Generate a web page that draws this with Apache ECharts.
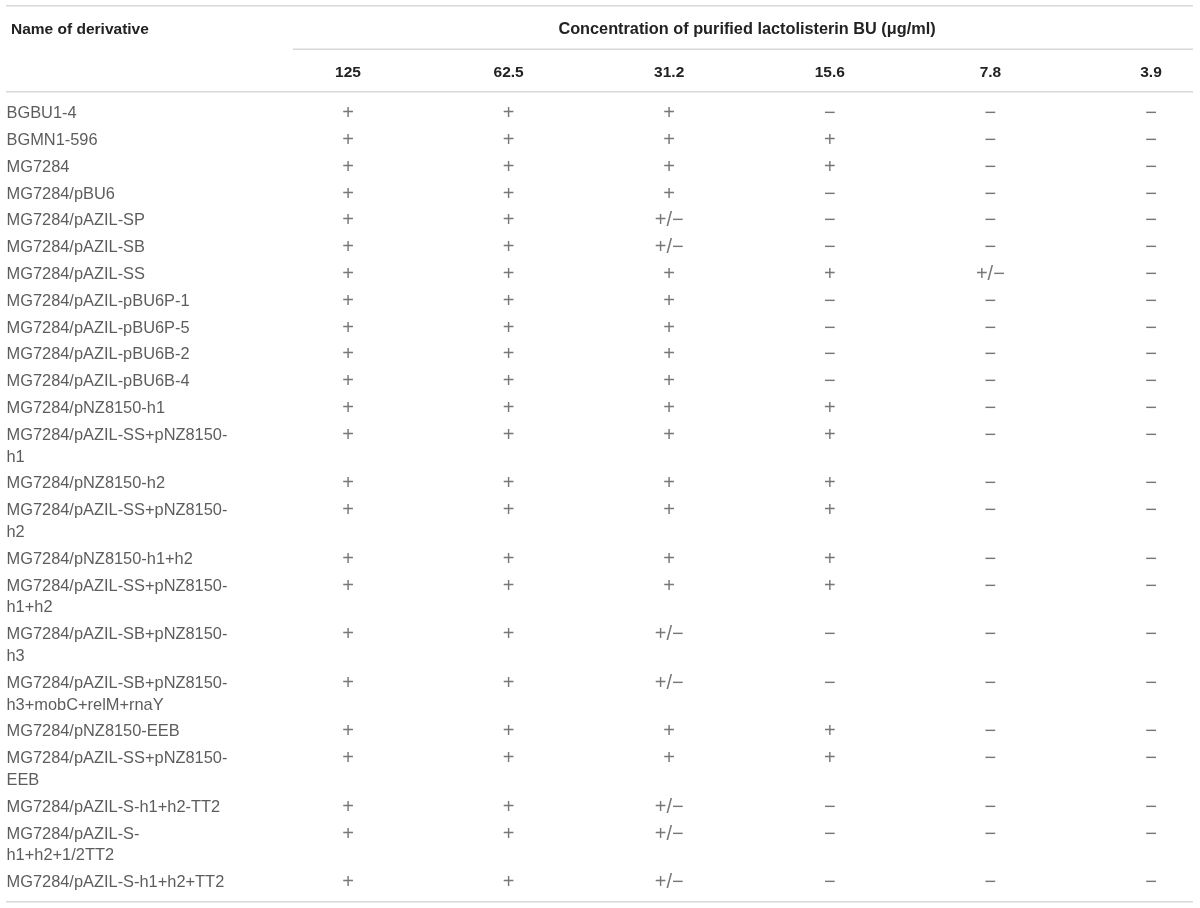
<!DOCTYPE html>
<html>
<head>
<meta charset="utf-8">
<title>Lactolisterin BU sensitivity</title>
<script src="https://cdn.jsdelivr.net/npm/echarts@6/dist/echarts.min.js"></script>
<style>
html,body{margin:0;padding:0;background:#fff;}
#main{width:1200px;height:908px;}
</style>
</head>
<body>
<div id="main"></div>
<script>
// column headers (ug/ml)
var concentrations = ['125', '62.5', '31.2', '15.6', '7.8', '3.9'];

// derivative names, \n where the name wraps in the table
var derivatives = [
    'BGBU1-4',
    'BGMN1-596',
    'MG7284',
    'MG7284/pBU6',
    'MG7284/pAZIL-SP',
    'MG7284/pAZIL-SB',
    'MG7284/pAZIL-SS',
    'MG7284/pAZIL-pBU6P-1',
    'MG7284/pAZIL-pBU6P-5',
    'MG7284/pAZIL-pBU6B-2',
    'MG7284/pAZIL-pBU6B-4',
    'MG7284/pNZ8150-h1',
    'MG7284/pAZIL-SS+pNZ8150-\nh1',
    'MG7284/pNZ8150-h2',
    'MG7284/pAZIL-SS+pNZ8150-\nh2',
    'MG7284/pNZ8150-h1+h2',
    'MG7284/pAZIL-SS+pNZ8150-\nh1+h2',
    'MG7284/pAZIL-SB+pNZ8150-\nh3',
    'MG7284/pAZIL-SB+pNZ8150-\nh3+mobC+relM+rnaY',
    'MG7284/pNZ8150-EEB',
    'MG7284/pAZIL-SS+pNZ8150-\nEEB',
    'MG7284/pAZIL-S-h1+h2-TT2',
    'MG7284/pAZIL-S-\nh1+h2+1/2TT2',
    'MG7284/pAZIL-S-h1+h2+TT2'
];

// result per concentration column
var c125  = ['+','+','+','+','+','+','+','+','+','+','+','+','+','+','+','+','+','+','+','+','+','+','+','+'];
var c62_5 = ['+','+','+','+','+','+','+','+','+','+','+','+','+','+','+','+','+','+','+','+','+','+','+','+'];
var c31_2 = ['+','+','+','+','+/\u2212','+/\u2212','+','+','+','+','+','+','+','+','+','+','+','+/\u2212','+/\u2212','+','+','+/\u2212','+/\u2212','+/\u2212'];
var c15_6 = ['\u2212','+','+','\u2212','\u2212','\u2212','+','\u2212','\u2212','\u2212','\u2212','+','+','+','+','+','+','\u2212','\u2212','+','+','\u2212','\u2212','\u2212'];
var c7_8  = ['\u2212','\u2212','\u2212','\u2212','\u2212','\u2212','+/\u2212','\u2212','\u2212','\u2212','\u2212','\u2212','\u2212','\u2212','\u2212','\u2212','\u2212','\u2212','\u2212','\u2212','\u2212','\u2212','\u2212','\u2212'];
var c3_9  = ['\u2212','\u2212','\u2212','\u2212','\u2212','\u2212','\u2212','\u2212','\u2212','\u2212','\u2212','\u2212','\u2212','\u2212','\u2212','\u2212','\u2212','\u2212','\u2212','\u2212','\u2212','\u2212','\u2212','\u2212'];
var results = [c125, c62_5, c31_2, c15_6, c7_8, c3_9];

// layout
var ROW = 26.75;      // pitch of a one line row
var LINE = 21.75;     // extra height per wrapped line
var TOP = 113.8, BOTTOM = 25.4;
var textColor = '#333';
var ruleColor = '#d8d8d8';
var font = '"Liberation Sans", Arial, sans-serif';

// row positions follow from how many lines each name takes
var rowPos = [];
var acc = 0;
for (var i = 0; i < derivatives.length; i++) {
    rowPos[i] = acc;
    var nLines = derivatives[i].split('\n').length;
    acc += ROW + (nLines - 1) * LINE;
}
var lastPos = rowPos[rowPos.length - 1];

var nameData = [];
for (var i = 0; i < derivatives.length; i++) {
    nameData.push({value: [0, rowPos[i]], name: derivatives[i]});
}
var markData = [];
for (var c = 0; c < results.length; c++) {
    for (var r = 0; r < derivatives.length; r++) {
        markData.push({value: [c, rowPos[r]], name: results[c][r]});
    }
}

var myChart = echarts.init(document.getElementById('main'));
option = {
    backgroundColor: '#fff',
    animation: false,
    title: [{
        text: 'Name of derivative',
        left: 6,
        top: 17,
        textStyle: {fontFamily: font, fontSize: 15.5, fontWeight: 'bold', color: '#222'}
    }, {
        text: 'Concentration of purified lactolisterin BU (\u03bcg/ml)',
        left: 742,
        top: 17,
        textAlign: 'center',
        textStyle: {fontFamily: font, fontSize: 16.3, fontWeight: 'bold', color: '#222'}
    }],
    grid: [
        {left: 348, right: 49, top: TOP, bottom: BOTTOM},
        {left: 6, width: 280, top: TOP, bottom: BOTTOM}
    ],
    xAxis: [{
        type: 'category',
        gridIndex: 0,
        position: 'top',
        data: concentrations,
        boundaryGap: false,
        axisLine: {show: false},
        axisTick: {show: false},
        splitLine: {show: false},
        axisLabel: {
            margin: 33.5,
            fontFamily: font,
            fontSize: 15.5,
            fontWeight: 'bold',
            color: '#222'
        }
    }, {
        type: 'value',
        gridIndex: 1,
        min: 0,
        max: 1,
        show: false
    }],
    yAxis: [{
        type: 'value',
        gridIndex: 0,
        inverse: true,
        min: 0,
        max: lastPos,
        show: false
    }, {
        type: 'value',
        gridIndex: 1,
        inverse: true,
        min: 0,
        max: lastPos,
        show: false
    }],
    graphic: [
        {type: 'line', shape: {x1: 6, y1: 5.7, x2: 1193, y2: 5.7}, style: {stroke: ruleColor, lineWidth: 1.5}},
        {type: 'line', shape: {x1: 293, y1: 49.3, x2: 1193, y2: 49.3}, style: {stroke: ruleColor, lineWidth: 1.5}},
        {type: 'line', shape: {x1: 6, y1: 91.7, x2: 1193, y2: 91.7}, style: {stroke: ruleColor, lineWidth: 1.5}},
        {type: 'line', shape: {x1: 6, y1: 901.7, x2: 1193, y2: 901.7}, style: {stroke: ruleColor, lineWidth: 1.5}}
    ],
    series: [{
        name: 'derivative',
        type: 'scatter',
        xAxisIndex: 1,
        yAxisIndex: 1,
        data: nameData,
        symbolSize: 1,
        itemStyle: {color: 'rgba(0,0,0,0)'},
        label: {
            show: true,
            position: 'right',
            distance: 0,
            verticalAlign: 'top',
            offset: [0, -LINE / 2],
            lineHeight: LINE,
            formatter: '{b}',
            fontFamily: font,
            fontSize: 16.4,
            color: textColor
        }
    }, {
        name: 'result',
        type: 'scatter',
        xAxisIndex: 0,
        yAxisIndex: 0,
        data: markData,
        symbolSize: 1,
        itemStyle: {color: 'rgba(0,0,0,0)'},
        label: {
            show: true,
            position: 'inside',
            formatter: '{b}',
            fontFamily: font,
            fontSize: 20,
            color: '#555'
        }
    }]
};
myChart.setOption(option);
</script>
</body>
</html>
